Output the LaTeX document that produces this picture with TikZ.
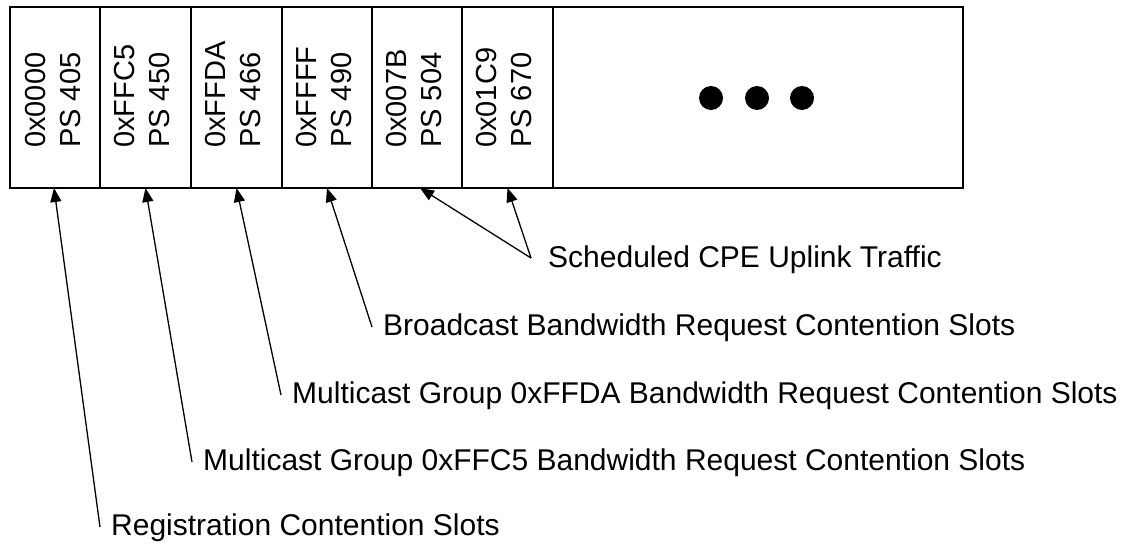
\documentclass[tikz,border=0pt]{standalone}
\usepackage{fontspec}
\setmainfont{Liberation Sans}
\usetikzlibrary{arrows.meta}
\begin{document}
\begin{tikzpicture}[x=1pt,y=-1pt,
  cell/.style={draw,line width=1.6pt,minimum height=181pt,inner sep=0pt,outer sep=0pt,anchor=north west},
  celltext/.style={rotate=90,anchor=west,inner sep=0pt,align=left,font=\fontsize{29}{35}\selectfont},
  lbl/.style={anchor=base west,inner xsep=11pt,inner ysep=0pt,text height=21pt,text depth=5pt,font=\fontsize{30}{36}\selectfont},
  ptr/.style={line width=1.3pt,-{Triangle[length=14pt,width=11pt]}},
  dot/.style={circle,fill=black,minimum size=24pt,inner sep=0pt}
]
\useasboundingbox (0,0) rectangle (1129,546);
% cells
\node[cell,minimum width=90pt] (c1) at (10,7) {};
\node[cell,minimum width=91pt] (c2) at (100,7) {};
\node[cell,minimum width=91pt] (c3) at (191,7) {};
\node[cell,minimum width=90pt] (c4) at (282,7) {};
\node[cell,minimum width=90pt] (c5) at (372,7) {};
\node[cell,minimum width=91pt] (c6) at (462,7) {};
\node[cell,minimum width=410pt] (c7) at (553,7) {};
% cell texts
\node[celltext] (t1) at (53,148) {0x0000\\PS 405};
\node[celltext] (t2) at (142,148) {0xFFC5\\PS 450};
\node[celltext] (t3) at (233,148) {0xFFDA\\PS 466};
\node[celltext] (t4) at (324,148) {0xFFFF\\PS 490};
\node[celltext] (t5) at (414,148) {0x007B\\PS 504};
\node[celltext] (t6) at (504,148) {0x01C9\\PS 670};
% dots
\node[dot] (d1) at (711,98) {};
\node[dot] (d2) at (757,98) {};
\node[dot] (d3) at (802,98) {};
% labels
\node[lbl] (sched) at (537,267) {Scheduled CPE Uplink Traffic};
\node[lbl] (bcast) at (372,335) {Broadcast Bandwidth Request Contention Slots};
\node[lbl] (mfda) at (281,403) {Multicast Group 0xFFDA Bandwidth Request Contention Slots};
\node[lbl] (mfc5) at (192,470) {Multicast Group 0xFFC5 Bandwidth Request Contention Slots};
\node[lbl] (reg) at (100,535) {Registration Contention Slots};
% pointers
\coordinate (sj) at ([xshift=-6pt,yshift=1pt]sched.west);
\draw[ptr] (sj) -- ([xshift=3pt]c5.south);
\draw[ptr] (sj) -- (c6.south);
\draw[ptr] (bcast.west) -- (c4.south);
\draw[ptr] (mfda.west) -- (c3.south);
\draw[ptr] (mfc5.west) -- (c2.south);
\draw[ptr] (reg.west) -- ([xshift=-1pt]c1.south);
\end{tikzpicture}
\end{document}
